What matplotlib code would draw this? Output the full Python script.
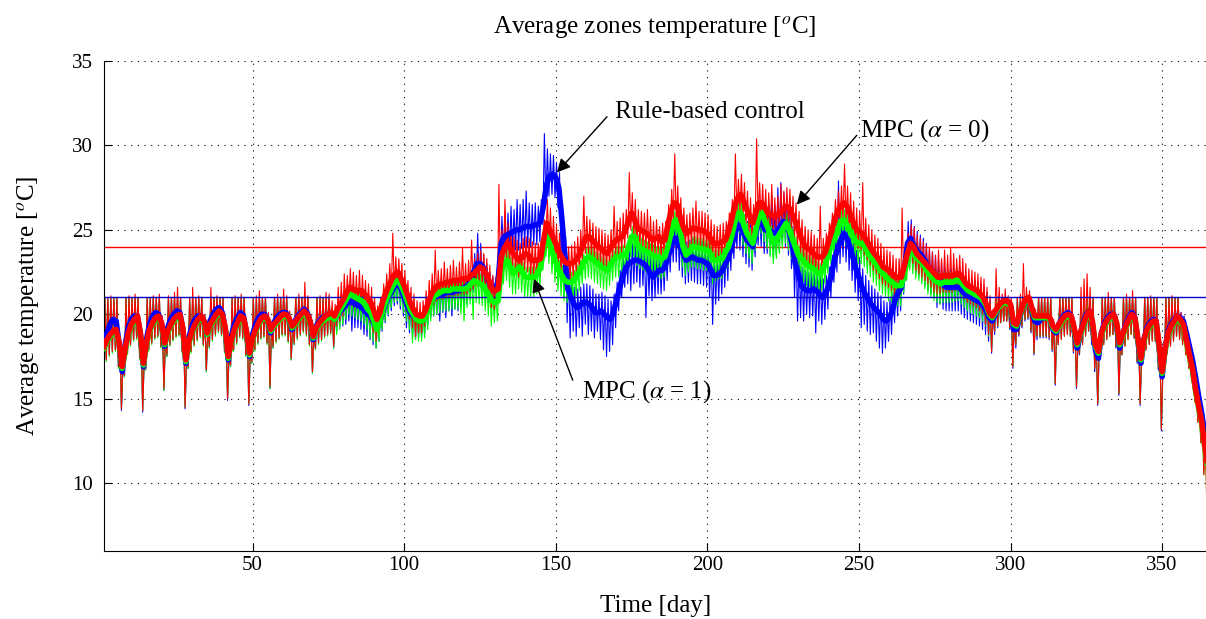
import numpy as np
import matplotlib.pyplot as plt

plt.rcParams["font.family"] = ["Liberation Serif", "DejaVu Serif"]
plt.rcParams["mathtext.fontset"] = "stix"

# daily values (day 1 .. 365)
red_mean = [
    18.1, 18.5, 18.8, 19.0, 19.1, 18.3, 16.9, 18.0, 18.9, 19.4, 19.7, 19.9, 18.9, 17.1,
    18.3, 19.1, 19.5, 19.8, 19.9, 19.5, 18.3, 19.0, 19.4, 19.7, 19.9, 20.0, 19.2, 17.3,
    18.4, 19.0, 19.4, 19.7, 19.9, 19.6, 18.9, 19.4, 19.7, 20.0, 20.2, 20.0, 19.2, 17.5,
    18.5, 19.1, 19.5, 19.9, 19.8, 19.0, 17.7, 18.6, 19.1, 19.5, 19.8, 19.9, 19.7, 19.1,
    19.4, 19.6, 19.8, 20.0, 20.0, 19.8, 19.3, 19.5, 19.8, 20.0, 20.2, 20.0, 19.6, 18.7,
    19.2, 19.5, 19.7, 19.9, 20.0, 20.1, 19.9, 20.3, 20.6, 20.9, 21.3, 21.6, 21.5, 21.4,
    21.4, 21.4, 21.2, 21.0, 20.7, 20.2, 19.7, 20.1, 20.8, 21.3, 21.7, 22.1, 22.4, 22.5,
    22.1, 21.7, 21.2, 20.7, 20.3, 20.0, 19.9, 19.9, 20.2, 20.7, 21.2, 21.5, 21.7, 21.8,
    21.8, 21.9, 21.9, 22.0, 22.0, 22.0, 22.1, 22.1, 22.1, 22.3, 22.4, 22.6, 22.8, 22.7,
    22.4, 22.0, 21.5, 21.4, 21.5, 23.4, 23.9, 24.2, 23.9, 23.6, 23.4, 23.2, 23.4, 23.6,
    23.5, 23.2, 23.2, 23.2, 23.3, 24.4, 25.4, 25.0, 24.6, 24.2, 23.7, 23.4, 23.1, 23.0,
    23.0, 23.1, 23.3, 23.6, 24.1, 24.6, 24.6, 24.4, 24.2, 24.0, 23.9, 23.7, 23.6, 23.9,
    24.2, 24.4, 24.5, 24.6, 25.0, 25.5, 26.0, 25.6, 25.1, 25.0, 24.9, 24.8, 24.6, 24.4,
    24.5, 24.6, 24.3, 24.4, 25.3, 26.1, 26.6, 26.5, 25.8, 25.2, 24.8, 24.9, 25.1, 25.1,
    25.0, 25.0, 24.9, 24.8, 24.5, 24.2, 24.2, 24.2, 24.3, 24.4, 24.9, 25.6, 26.4, 26.9,
    27.1, 26.7, 26.2, 25.8, 25.4, 26.0, 26.6, 26.6, 26.3, 26.0, 25.9, 25.8, 25.9, 26.0,
    26.2, 26.4, 26.3, 25.9, 25.5, 25.0, 24.5, 24.1, 23.9, 23.8, 23.6, 23.4, 23.4, 23.4,
    23.7, 24.3, 24.9, 25.6, 26.1, 26.4, 26.6, 26.4, 26.0, 25.5, 25.1, 24.9, 24.8, 24.5,
    24.2, 23.9, 23.6, 23.4, 23.1, 22.8, 22.7, 22.6, 22.4, 22.2, 22.2, 22.2, 22.9, 23.6,
    24.2, 24.0, 23.6, 23.4, 23.2, 23.0, 22.8, 22.6, 22.4, 22.2, 22.2, 22.3, 22.3, 22.3,
    22.3, 22.4, 22.4, 22.2, 21.9, 21.7, 21.6, 21.5, 21.4, 21.2, 21.0, 20.6, 20.1, 19.9,
    20.2, 20.5, 20.7, 20.8, 20.8, 20.6, 19.5, 19.4, 20.0, 20.5, 20.9, 21.0, 20.4, 19.9,
    19.9, 19.9, 19.9, 19.9, 19.8, 19.3, 19.1, 19.4, 19.7, 19.9, 20.0, 19.9, 19.2, 18.3,
    18.9, 19.4, 19.9, 20.2, 19.6, 18.2, 17.8, 18.9, 19.4, 19.7, 19.9, 20.0, 19.5, 18.3,
    18.8, 19.3, 19.7, 20.0, 19.8, 18.6, 17.4, 18.5, 19.1, 19.4, 19.6, 19.6, 18.2, 16.6,
    18.0, 18.9, 19.3, 19.6, 19.9, 19.7, 19.4, 18.5, 17.6, 16.8, 15.6, 14.6, 13.7, 12.3,
    11.1,
]
red_hi = [
    21.0, 21.0, 21.1, 21.0, 21.0, 18.7, 17.2, 21.0, 21.1, 21.0, 21.2, 21.0, 19.3, 17.4,
    21.0, 21.0, 21.1, 21.0, 21.2, 19.9, 18.6, 21.1, 21.0, 21.3, 21.6, 21.0, 19.6, 17.6,
    21.0, 21.6, 21.0, 21.1, 21.0, 20.0, 19.2, 21.6, 21.0, 21.1, 21.0, 21.0, 19.6, 17.8,
    21.0, 21.1, 21.0, 21.2, 21.0, 19.4, 18.0, 21.0, 21.1, 21.4, 21.0, 21.0, 20.1, 19.4,
    21.0, 21.2, 21.0, 21.5, 21.1, 20.2, 19.6, 21.0, 21.2, 21.0, 21.9, 21.1, 20.0, 19.0,
    21.0, 21.1, 21.0, 21.3, 21.2, 20.8, 20.6, 21.6, 21.9, 22.4, 22.3, 22.7, 22.5, 22.3,
    22.6, 22.3, 22.0, 21.8, 21.6, 21.0, 20.5, 21.0, 21.8, 22.4, 23.0, 24.8, 23.4, 23.3,
    23.0, 22.6, 22.0, 21.6, 21.2, 20.8, 20.7, 20.8, 21.4, 22.0, 22.4, 23.8, 22.6, 22.7,
    23.1, 22.7, 22.9, 23.2, 22.8, 23.1, 23.9, 23.0, 23.2, 24.4, 23.3, 23.6, 23.8, 23.6,
    23.3, 22.9, 22.3, 22.2, 27.7, 25.0, 26.8, 25.4, 24.8, 24.6, 24.4, 24.2, 24.5, 24.6,
    24.5, 24.3, 24.2, 24.2, 24.4, 25.6, 26.8, 26.3, 25.8, 25.3, 24.8, 24.4, 24.1, 24.0,
    24.1, 24.3, 24.6, 25.0, 27.0, 25.8, 25.6, 25.4, 25.2, 25.1, 25.0, 24.8, 24.7, 25.0,
    26.4, 25.5, 25.7, 26.0, 26.2, 28.4, 27.2, 26.8, 26.2, 26.1, 26.0, 26.2, 25.8, 25.5,
    25.6, 25.2, 25.4, 25.5, 26.5, 27.4, 29.5, 27.6, 26.9, 26.3, 25.9, 26.0, 26.3, 26.7,
    26.1, 26.1, 26.0, 25.9, 25.6, 25.3, 25.2, 25.3, 25.4, 25.5, 26.0, 26.8, 29.5, 28.0,
    28.3, 27.8, 27.3, 26.9, 26.5, 30.4, 27.8, 27.7, 27.4, 27.2, 27.7, 26.9, 27.0, 27.7,
    27.3, 27.5, 27.4, 27.0, 26.6, 26.1, 25.6, 25.2, 25.0, 24.9, 24.7, 24.5, 26.4, 24.5,
    24.8, 25.4, 26.0, 26.8, 27.3, 27.6, 28.9, 27.6, 27.2, 26.7, 26.3, 26.1, 27.8, 25.7,
    25.3, 25.0, 24.7, 24.5, 24.2, 23.9, 23.8, 23.7, 23.5, 23.3, 23.3, 26.3, 24.0, 24.8,
    25.3, 25.1, 24.7, 24.5, 24.3, 24.1, 23.9, 23.7, 23.5, 23.8, 23.3, 23.8, 23.5, 23.9,
    23.6, 23.3, 23.5, 23.3, 23.0, 22.7, 22.6, 22.5, 22.4, 22.2, 22.1, 21.6, 21.1, 20.3,
    22.7, 21.6, 21.2, 21.5, 21.1, 21.0, 19.9, 21.0, 21.2, 23.0, 21.6, 21.4, 20.8, 20.3,
    21.0, 21.0, 21.0, 21.0, 21.0, 19.7, 19.5, 21.0, 21.0, 21.0, 21.0, 21.0, 19.6, 18.7,
    21.6, 22.1, 22.4, 21.6, 21.0, 18.6, 18.2, 21.0, 21.0, 21.3, 21.0, 21.0, 19.9, 18.7,
    21.0, 21.2, 21.0, 21.4, 21.0, 19.0, 17.8, 21.0, 21.0, 21.1, 21.0, 21.0, 18.6, 17.0,
    21.0, 21.0, 21.1, 21.0, 21.0, 20.1, 19.8, 18.9, 18.0, 17.2, 16.0, 15.0, 14.1, 12.7,
    11.5,
]
red_lo = [
    15.9, 17.3, 17.6, 17.8, 17.9, 16.9, 14.4, 16.4, 17.7, 18.2, 18.5, 18.6, 17.4, 14.3,
    16.8, 17.9, 18.3, 18.6, 18.7, 18.1, 15.6, 17.6, 18.2, 18.5, 18.7, 18.8, 17.8, 14.5,
    16.9, 17.8, 18.2, 18.5, 18.7, 18.2, 16.7, 18.1, 18.5, 18.8, 19.0, 18.8, 17.8, 15.0,
    17.0, 17.9, 18.3, 18.7, 18.6, 17.6, 14.7, 17.2, 17.9, 18.3, 18.6, 18.7, 18.3, 15.7,
    18.1, 18.4, 18.6, 18.8, 18.8, 18.4, 17.4, 18.3, 18.6, 18.8, 19.0, 18.8, 18.2, 16.6,
    18.0, 18.3, 18.5, 18.7, 18.8, 18.9, 18.1, 19.3, 19.6, 19.9, 20.3, 20.6, 20.5, 20.4,
    20.4, 20.3, 20.1, 19.9, 19.5, 18.9, 18.4, 19.0, 19.8, 20.4, 20.8, 21.2, 21.5, 21.6,
    21.2, 20.7, 20.2, 19.7, 19.2, 18.7, 18.9, 18.9, 19.3, 19.8, 20.3, 20.6, 20.8, 20.9,
    20.9, 21.0, 21.0, 21.1, 21.1, 21.1, 21.2, 21.2, 21.2, 21.4, 21.5, 21.7, 21.9, 21.8,
    21.5, 21.0, 20.4, 20.3, 20.6, 22.4, 22.9, 23.2, 22.9, 22.6, 22.4, 22.2, 22.4, 22.6,
    22.5, 22.2, 22.2, 22.2, 22.3, 23.4, 24.4, 24.0, 23.6, 23.2, 22.7, 22.4, 22.1, 22.0,
    22.0, 22.1, 22.3, 22.6, 23.1, 23.6, 23.6, 23.4, 23.2, 23.0, 22.9, 22.7, 22.6, 22.9,
    23.2, 23.4, 23.5, 23.6, 24.0, 24.5, 25.0, 24.6, 24.1, 24.0, 23.9, 23.8, 23.6, 23.4,
    23.5, 23.6, 23.3, 23.4, 24.3, 25.1, 25.6, 25.5, 24.8, 24.2, 23.8, 23.9, 24.1, 24.1,
    24.0, 24.0, 23.9, 23.8, 23.5, 23.2, 23.2, 23.2, 23.3, 23.4, 23.9, 24.6, 25.4, 25.9,
    26.1, 25.7, 25.2, 24.8, 24.4, 25.0, 25.6, 25.6, 25.3, 25.0, 24.9, 24.8, 24.9, 25.0,
    25.2, 25.4, 25.3, 24.9, 24.5, 24.0, 23.5, 23.1, 22.9, 22.8, 22.6, 22.4, 22.4, 22.4,
    22.7, 23.3, 23.9, 24.6, 25.1, 25.4, 25.6, 25.4, 25.0, 24.5, 24.1, 23.9, 23.8, 23.5,
    23.2, 22.9, 22.6, 22.4, 22.1, 21.8, 21.7, 21.6, 21.4, 21.0, 20.9, 21.2, 21.9, 22.6,
    23.2, 23.0, 22.6, 22.4, 22.2, 22.0, 21.8, 21.6, 21.3, 21.2, 21.2, 21.3, 21.3, 21.3,
    21.3, 21.4, 21.4, 21.2, 20.9, 20.7, 20.6, 20.5, 20.4, 20.2, 20.0, 19.4, 18.8, 17.8,
    19.0, 19.3, 19.5, 19.6, 19.6, 19.2, 16.9, 18.2, 18.8, 19.3, 19.7, 19.8, 19.0, 17.7,
    18.7, 18.7, 18.7, 18.7, 18.6, 17.9, 15.9, 18.2, 18.5, 18.7, 18.8, 18.7, 17.8, 15.7,
    17.7, 18.2, 18.7, 19.0, 18.4, 16.8, 14.7, 17.7, 18.2, 18.5, 18.7, 18.8, 18.1, 15.3,
    17.6, 18.1, 18.5, 18.8, 18.6, 17.2, 14.7, 17.3, 17.9, 18.2, 18.4, 18.4, 16.8, 13.2,
    16.8, 17.7, 18.1, 18.4, 18.7, 18.5, 18.2, 17.6, 16.8, 16.0, 14.8, 13.6, 12.4, 10.5,
    8.6,
]

green_mean = [
    18.0, 18.4, 18.7, 18.9, 19.0, 18.2, 16.8, 17.9, 18.8, 19.3, 19.6, 19.8, 18.8, 17.0,
    18.2, 19.0, 19.4, 19.7, 19.8, 19.4, 18.2, 18.9, 19.3, 19.6, 19.8, 19.9, 19.1, 17.2,
    18.3, 18.9, 19.3, 19.6, 19.8, 19.5, 18.8, 19.3, 19.6, 19.9, 20.1, 19.9, 19.1, 17.4,
    18.4, 19.0, 19.4, 19.8, 19.7, 18.9, 17.6, 18.5, 19.0, 19.4, 19.7, 19.8, 19.6, 19.0,
    19.3, 19.5, 19.7, 19.9, 19.9, 19.7, 19.2, 19.4, 19.7, 19.9, 20.1, 19.9, 19.5, 18.6,
    19.1, 19.4, 19.6, 19.7, 19.8, 19.9, 19.7, 20.0, 20.3, 20.6, 20.9, 21.2, 21.1, 21.0,
    20.9, 20.8, 20.6, 20.3, 20.1, 19.6, 19.1, 19.6, 20.3, 20.8, 21.2, 21.6, 21.9, 22.0,
    21.7, 21.3, 20.8, 20.3, 20.0, 19.7, 19.6, 19.6, 19.8, 20.3, 20.8, 21.1, 21.2, 21.3,
    21.4, 21.4, 21.4, 21.5, 21.5, 21.5, 21.5, 21.5, 21.6, 21.8, 22.0, 21.9, 21.8, 21.7,
    21.4, 21.1, 20.8, 20.7, 20.8, 22.6, 23.0, 23.2, 22.8, 22.4, 22.6, 22.8, 22.5, 22.2,
    22.2, 22.2, 22.2, 22.4, 22.8, 23.8, 24.6, 24.2, 23.6, 23.1, 22.6, 22.3, 22.0, 21.9,
    21.9, 22.0, 22.3, 22.6, 23.0, 23.3, 23.4, 23.3, 23.1, 23.0, 22.8, 22.7, 22.6, 22.9,
    23.2, 23.4, 23.4, 23.5, 23.5, 24.0, 24.6, 24.6, 24.1, 23.9, 23.8, 23.7, 23.6, 23.5,
    23.4, 23.4, 23.3, 23.4, 24.0, 24.8, 25.5, 25.6, 24.9, 24.0, 23.5, 23.7, 24.0, 24.0,
    23.9, 23.9, 23.8, 23.8, 23.6, 23.2, 23.2, 23.3, 23.3, 23.7, 24.0, 24.6, 25.4, 26.0,
    26.0, 25.3, 24.8, 24.5, 24.2, 25.0, 25.8, 26.0, 25.5, 25.1, 24.6, 24.2, 24.5, 24.8,
    25.1, 25.4, 25.0, 24.5, 24.0, 23.5, 23.3, 23.1, 22.9, 22.8, 22.7, 22.5, 22.4, 22.6,
    23.0, 23.6, 24.2, 24.5, 25.0, 25.5, 25.6, 25.3, 25.0, 24.6, 24.3, 24.2, 24.2, 24.0,
    23.6, 23.4, 23.1, 22.9, 22.6, 22.4, 22.2, 22.0, 21.9, 21.7, 21.7, 21.7, 22.5, 23.2,
    23.8, 23.6, 23.3, 23.2, 23.0, 22.7, 22.4, 22.2, 22.0, 21.9, 21.8, 21.9, 21.9, 21.9,
    21.9, 22.0, 22.0, 21.8, 21.6, 21.4, 21.3, 21.2, 21.1, 21.0, 20.8, 20.5, 20.0, 19.8,
    20.1, 20.4, 20.6, 20.7, 20.7, 20.5, 19.4, 19.3, 19.9, 20.4, 20.8, 20.9, 20.3, 19.8,
    19.8, 19.8, 19.8, 19.8, 19.7, 19.2, 19.0, 19.3, 19.6, 19.8, 19.9, 19.8, 19.1, 18.2,
    18.8, 19.3, 19.8, 20.1, 19.5, 18.1, 17.7, 18.8, 19.3, 19.6, 19.8, 19.9, 19.4, 18.2,
    18.7, 19.2, 19.6, 19.9, 19.7, 18.5, 17.3, 18.4, 19.0, 19.3, 19.5, 19.5, 18.1, 16.5,
    17.9, 18.8, 19.2, 19.5, 19.8, 19.6, 19.3, 18.4, 17.5, 16.7, 15.5, 14.5, 13.6, 12.2,
    11.0,
]
green_hi = [
    21.0, 21.0, 21.0, 21.0, 21.0, 18.6, 17.1, 21.0, 21.0, 21.0, 21.0, 21.0, 19.2, 17.3,
    21.0, 21.0, 21.0, 21.0, 21.0, 19.8, 18.5, 21.0, 21.0, 21.0, 21.0, 21.0, 19.5, 17.5,
    21.0, 21.0, 21.0, 21.0, 21.0, 19.9, 19.1, 21.0, 21.0, 21.0, 21.0, 21.0, 19.5, 17.7,
    21.0, 21.0, 21.0, 21.0, 21.0, 19.3, 17.9, 21.0, 21.0, 21.0, 21.0, 21.0, 20.0, 19.3,
    21.0, 21.0, 21.0, 21.0, 21.0, 20.1, 19.5, 21.0, 21.0, 21.0, 21.0, 21.0, 19.9, 18.9,
    21.0, 21.0, 21.0, 21.0, 21.0, 20.4, 20.2, 20.8, 21.1, 21.4, 21.6, 22.0, 21.8, 21.7,
    21.6, 21.5, 21.3, 21.0, 20.8, 20.3, 19.8, 20.3, 21.0, 21.5, 21.9, 22.4, 22.6, 22.6,
    22.3, 21.9, 21.4, 20.9, 20.6, 20.3, 20.2, 20.2, 20.4, 20.9, 21.4, 21.7, 21.8, 21.9,
    22.0, 22.0, 22.0, 22.1, 22.1, 22.1, 22.1, 22.1, 22.2, 22.4, 22.6, 22.5, 22.4, 22.3,
    22.0, 21.7, 21.4, 21.3, 21.4, 23.4, 23.6, 23.8, 23.4, 23.0, 23.2, 23.4, 23.1, 22.8,
    22.8, 22.8, 22.8, 23.0, 23.4, 24.4, 25.2, 24.8, 24.2, 23.7, 23.2, 22.9, 22.6, 22.5,
    22.5, 22.6, 22.9, 23.2, 23.6, 23.9, 24.0, 23.9, 23.7, 23.6, 23.4, 23.3, 23.2, 23.5,
    23.8, 24.0, 24.0, 24.1, 24.1, 24.6, 25.2, 25.2, 24.7, 24.5, 24.4, 24.3, 24.2, 24.1,
    24.0, 24.0, 23.9, 24.0, 24.6, 25.4, 26.1, 26.2, 25.5, 24.6, 24.1, 24.3, 24.6, 24.6,
    24.5, 24.5, 24.4, 24.4, 24.2, 23.8, 23.8, 23.9, 23.9, 24.3, 24.6, 25.2, 26.0, 26.6,
    26.6, 25.9, 25.4, 25.1, 24.8, 25.6, 26.4, 26.6, 26.1, 25.7, 25.2, 24.8, 25.1, 25.4,
    25.7, 26.0, 25.6, 25.1, 24.6, 24.1, 23.9, 23.7, 23.5, 23.4, 23.3, 23.1, 23.0, 23.2,
    23.6, 24.2, 24.8, 25.1, 25.6, 26.1, 26.2, 25.9, 25.6, 25.2, 24.9, 24.8, 24.8, 24.6,
    24.2, 24.0, 23.7, 23.5, 23.2, 23.0, 22.8, 22.6, 22.5, 22.3, 22.3, 22.3, 23.1, 23.8,
    24.4, 24.2, 23.9, 23.8, 23.6, 23.3, 23.0, 22.8, 22.6, 22.5, 22.4, 22.5, 22.5, 22.5,
    22.5, 22.6, 22.6, 22.4, 22.2, 22.0, 21.9, 21.8, 21.7, 21.6, 21.4, 21.1, 20.6, 20.2,
    21.0, 21.0, 21.0, 21.0, 21.0, 20.8, 19.7, 21.0, 21.0, 21.0, 21.0, 21.0, 20.6, 20.1,
    21.0, 21.0, 21.0, 21.0, 21.0, 19.5, 19.3, 21.0, 21.0, 21.0, 21.0, 21.0, 19.4, 18.5,
    21.0, 21.0, 21.0, 21.0, 21.0, 18.4, 18.0, 21.0, 21.0, 21.0, 21.0, 21.0, 19.7, 18.5,
    21.0, 21.0, 21.0, 21.0, 21.0, 18.8, 17.6, 21.0, 21.0, 21.0, 21.0, 21.0, 18.4, 16.8,
    21.0, 21.0, 21.0, 21.0, 21.0, 19.9, 19.6, 18.7, 17.8, 17.0, 15.8, 14.8, 13.9, 12.5,
    11.3,
]
green_lo = [
    15.9, 17.2, 17.5, 17.7, 17.8, 16.8, 14.4, 16.3, 17.6, 18.1, 18.4, 18.5, 17.3, 14.3,
    16.7, 17.8, 18.2, 18.5, 18.6, 18.0, 15.5, 17.5, 18.1, 18.4, 18.6, 18.7, 17.7, 14.5,
    16.8, 17.7, 18.1, 18.4, 18.6, 18.1, 16.6, 18.0, 18.4, 18.7, 18.9, 18.7, 17.7, 15.0,
    16.9, 17.8, 18.2, 18.6, 18.5, 17.5, 14.7, 17.1, 17.8, 18.2, 18.5, 18.6, 18.2, 15.6,
    18.0, 18.3, 18.5, 18.7, 18.7, 18.3, 17.3, 18.2, 18.5, 18.7, 18.9, 18.7, 18.1, 16.5,
    17.9, 18.2, 18.4, 18.6, 18.7, 18.8, 18.0, 18.8, 19.1, 19.4, 19.7, 20.0, 19.9, 19.8,
    19.7, 19.6, 19.4, 19.1, 18.6, 18.4, 18.0, 18.4, 19.1, 19.6, 20.0, 20.4, 20.7, 20.8,
    20.5, 20.1, 19.6, 19.1, 18.3, 18.5, 18.4, 18.4, 18.6, 19.1, 19.6, 19.9, 20.0, 20.1,
    20.2, 20.2, 20.2, 20.3, 20.3, 20.3, 20.0, 19.6, 20.4, 20.6, 19.7, 20.7, 20.6, 20.5,
    20.2, 19.9, 19.3, 19.5, 19.6, 21.4, 21.8, 22.0, 21.6, 21.2, 21.2, 21.5, 21.3, 21.0,
    21.0, 21.0, 21.0, 21.2, 21.6, 22.6, 23.4, 23.0, 22.4, 21.9, 21.4, 21.1, 20.8, 20.7,
    20.7, 20.8, 21.1, 21.4, 21.8, 22.1, 22.2, 22.1, 21.9, 21.8, 21.6, 21.5, 21.4, 21.7,
    22.0, 22.2, 22.2, 22.3, 22.3, 22.8, 23.4, 23.4, 22.9, 22.7, 22.6, 22.5, 22.4, 22.3,
    22.2, 22.2, 22.1, 22.2, 22.8, 23.6, 24.3, 24.4, 23.7, 22.8, 22.3, 22.5, 22.8, 22.8,
    22.7, 22.7, 22.6, 22.6, 22.4, 21.8, 22.0, 22.1, 22.1, 22.5, 22.8, 23.4, 24.2, 24.8,
    24.8, 24.1, 23.6, 23.3, 23.0, 23.8, 24.6, 24.8, 24.3, 23.9, 23.4, 23.0, 23.3, 23.6,
    23.9, 24.2, 23.8, 23.3, 22.8, 22.3, 22.1, 21.9, 21.7, 21.6, 21.5, 21.3, 21.2, 21.4,
    21.8, 22.4, 23.0, 23.3, 23.8, 24.3, 24.4, 24.1, 23.8, 23.4, 23.1, 23.0, 23.0, 22.8,
    22.4, 22.2, 21.9, 21.7, 21.4, 21.2, 21.0, 20.8, 20.7, 20.5, 20.5, 20.5, 21.3, 22.0,
    22.6, 22.4, 22.1, 22.0, 21.8, 21.5, 21.2, 21.0, 20.8, 20.7, 20.6, 20.7, 20.7, 20.7,
    20.7, 20.8, 20.8, 20.6, 20.4, 20.2, 20.1, 20.0, 19.9, 19.8, 19.6, 19.3, 18.7, 17.8,
    19.0, 19.3, 19.5, 19.6, 19.6, 19.2, 16.9, 18.2, 18.8, 19.3, 19.7, 19.8, 19.0, 17.7,
    18.7, 18.7, 18.7, 18.7, 18.6, 17.9, 15.9, 18.2, 18.5, 18.7, 18.8, 18.7, 17.8, 15.7,
    17.7, 18.2, 18.7, 19.0, 18.4, 16.8, 14.7, 17.7, 18.2, 18.5, 18.7, 18.8, 18.1, 15.3,
    17.6, 18.1, 18.5, 18.8, 18.6, 17.2, 14.7, 17.3, 17.9, 18.2, 18.4, 18.4, 16.8, 13.2,
    16.8, 17.7, 18.1, 18.4, 18.7, 18.5, 18.2, 17.6, 16.8, 16.0, 14.8, 13.6, 12.4, 10.5,
    8.7,
]

blue_mean = [
    18.3, 18.9, 19.4, 19.7, 19.6, 18.2, 16.6, 18.2, 19.2, 19.7, 19.9, 19.9, 18.8, 16.9,
    18.5, 19.4, 19.9, 20.1, 20.0, 19.4, 18.1, 19.2, 19.7, 20.0, 20.2, 20.1, 19.1, 17.1,
    18.6, 19.3, 19.7, 19.9, 19.9, 19.6, 18.8, 19.6, 20.0, 20.3, 20.4, 20.1, 19.1, 17.3,
    18.7, 19.4, 19.8, 20.1, 19.9, 18.9, 17.5, 18.8, 19.4, 19.8, 20.0, 20.0, 19.6, 18.9,
    19.5, 19.8, 20.0, 20.1, 20.1, 19.7, 19.1, 19.6, 19.9, 20.1, 20.3, 20.1, 19.5, 18.5,
    19.3, 19.6, 19.8, 19.9, 20.0, 20.0, 19.7, 20.0, 20.2, 20.4, 20.6, 20.8, 20.7, 20.6,
    20.5, 20.4, 20.2, 20.0, 19.9, 19.5, 19.2, 19.6, 20.2, 20.7, 21.1, 21.4, 21.7, 21.8,
    21.5, 21.0, 20.5, 20.1, 19.9, 19.7, 19.6, 19.6, 19.9, 20.4, 20.9, 21.0, 21.1, 21.2,
    21.2, 21.3, 21.3, 21.3, 21.4, 21.4, 21.5, 21.6, 21.7, 22.0, 22.5, 23.0, 23.0, 22.8,
    22.4, 21.9, 21.6, 21.4, 22.0, 24.2, 24.6, 24.7, 24.8, 24.9, 25.0, 25.0, 25.1, 25.2,
    25.2, 25.2, 25.3, 25.3, 25.5, 26.5, 27.7, 28.2, 28.3, 28.1, 27.5, 25.7, 23.5, 21.5,
    21.0, 20.6, 20.4, 20.5, 20.7, 20.7, 20.6, 20.4, 20.1, 20.1, 20.2, 20.0, 19.8, 19.7,
    20.1, 20.8, 21.5, 22.2, 22.7, 23.0, 23.1, 23.2, 23.2, 23.1, 23.0, 22.8, 22.5, 22.2,
    22.4, 22.6, 22.6, 22.8, 23.4, 23.9, 24.5, 24.5, 24.0, 23.6, 23.2, 23.3, 23.4, 23.3,
    23.2, 23.2, 23.1, 23.0, 22.7, 22.3, 22.3, 22.4, 22.6, 23.0, 23.4, 24.0, 24.7, 25.3,
    25.2, 24.8, 24.4, 24.2, 24.0, 24.8, 25.5, 25.4, 25.0, 25.0, 24.9, 24.8, 24.9, 25.2,
    25.5, 25.4, 24.9, 24.1, 23.0, 22.4, 21.7, 21.5, 21.4, 21.4, 21.5, 21.4, 21.2, 21.0,
    21.2, 21.7, 22.4, 23.3, 23.9, 24.4, 24.8, 24.5, 24.0, 23.4, 22.7, 22.2, 21.6, 21.2,
    20.9, 20.6, 20.4, 20.2, 20.0, 19.7, 19.6, 19.8, 20.2, 20.9, 21.3, 21.6, 22.6, 24.2,
    24.5, 24.1, 23.8, 23.6, 23.4, 23.1, 22.8, 22.6, 22.4, 22.2, 22.0, 21.7, 21.6, 21.6,
    21.6, 21.6, 21.6, 21.4, 21.2, 21.1, 21.0, 20.9, 20.8, 20.7, 20.5, 20.2, 19.8, 19.6,
    20.0, 20.4, 20.7, 20.8, 20.8, 20.5, 19.1, 19.1, 19.8, 20.4, 20.8, 20.9, 20.2, 19.6,
    19.5, 19.7, 19.8, 19.8, 19.7, 19.1, 18.9, 19.4, 19.8, 20.0, 20.1, 19.9, 19.0, 18.0,
    18.8, 19.5, 20.0, 20.2, 19.4, 17.9, 17.4, 18.9, 19.5, 19.8, 20.0, 20.0, 19.3, 18.0,
    18.8, 19.4, 19.8, 20.1, 19.8, 18.4, 17.1, 18.5, 19.2, 19.5, 19.7, 19.6, 18.0, 16.3,
    18.0, 19.0, 19.4, 19.7, 19.9, 19.8, 19.6, 18.9, 18.1, 17.3, 16.3, 15.2, 14.2, 13.0,
    12.0,
]
blue_hi = [
    21.0, 21.0, 21.0, 21.0, 21.0, 18.5, 16.9, 21.0, 21.0, 21.0, 21.0, 21.0, 19.1, 17.2,
    21.0, 21.0, 21.0, 21.0, 21.0, 19.7, 18.4, 21.0, 21.0, 21.0, 21.0, 21.0, 19.4, 17.4,
    21.0, 21.0, 21.0, 21.0, 21.0, 19.9, 19.1, 21.0, 21.0, 21.0, 21.0, 21.0, 19.4, 17.6,
    21.0, 21.0, 21.0, 21.0, 21.0, 19.2, 17.8, 21.0, 21.0, 21.0, 21.0, 21.0, 19.9, 19.2,
    21.0, 21.0, 21.0, 21.0, 21.0, 20.0, 19.4, 21.0, 21.0, 21.0, 21.0, 21.0, 19.8, 18.8,
    21.0, 21.0, 21.0, 21.0, 21.0, 20.3, 20.0, 20.6, 20.8, 21.0, 21.2, 21.4, 21.3, 21.2,
    21.1, 21.0, 20.8, 20.6, 20.5, 20.1, 19.8, 20.2, 20.8, 21.3, 21.7, 22.0, 22.3, 22.4,
    22.1, 21.6, 21.1, 20.7, 20.5, 20.3, 20.2, 20.2, 20.5, 21.0, 21.5, 21.6, 21.7, 21.8,
    21.8, 21.9, 21.9, 21.9, 22.0, 22.0, 22.1, 22.2, 22.3, 22.6, 23.6, 24.8, 24.2, 23.5,
    23.0, 22.5, 22.2, 22.0, 22.6, 25.8, 26.0, 26.0, 26.4, 26.2, 26.8, 26.5, 26.8, 27.3,
    26.6, 26.5, 26.6, 26.4, 26.8, 30.7, 29.8, 29.5, 29.4, 29.0, 28.4, 26.5, 24.6, 22.6,
    22.0, 21.6, 21.5, 21.6, 21.8, 21.8, 21.7, 21.5, 21.2, 21.2, 21.3, 21.1, 20.9, 20.8,
    21.2, 21.9, 22.6, 23.3, 23.8, 24.1, 24.2, 24.3, 24.3, 24.2, 24.1, 23.9, 23.6, 23.3,
    23.5, 23.7, 23.7, 23.9, 24.5, 25.0, 25.6, 25.6, 25.1, 24.7, 24.3, 24.4, 24.5, 24.4,
    24.3, 24.3, 24.2, 24.1, 23.8, 23.4, 23.4, 23.5, 23.7, 24.1, 24.5, 25.1, 25.8, 26.4,
    26.3, 25.9, 25.5, 25.3, 25.1, 25.9, 26.6, 26.5, 26.1, 26.6, 27.0, 26.5, 27.5, 27.8,
    27.2, 26.5, 26.0, 25.2, 24.1, 23.5, 22.8, 22.6, 22.5, 22.5, 22.6, 22.5, 22.3, 22.1,
    22.3, 22.8, 23.5, 24.4, 27.9, 25.5, 25.9, 25.6, 25.1, 24.5, 23.8, 23.3, 22.7, 22.3,
    22.0, 21.7, 21.5, 21.3, 21.1, 20.8, 20.7, 20.9, 21.3, 22.0, 22.4, 22.7, 23.7, 25.5,
    25.6, 25.2, 24.9, 24.7, 24.5, 24.2, 23.9, 23.7, 23.5, 23.3, 23.1, 22.8, 22.7, 22.7,
    22.7, 22.7, 22.7, 22.5, 22.3, 22.2, 22.1, 22.0, 21.9, 21.8, 21.6, 21.3, 20.9, 20.0,
    21.0, 21.0, 21.0, 21.0, 21.0, 20.8, 19.4, 21.0, 21.0, 21.0, 21.0, 21.0, 20.5, 19.9,
    21.0, 21.0, 21.0, 21.0, 21.0, 19.4, 19.2, 21.0, 21.0, 21.0, 21.0, 21.0, 19.3, 18.3,
    21.0, 21.0, 21.0, 21.0, 21.0, 18.2, 17.7, 21.0, 21.0, 21.0, 21.0, 21.0, 19.6, 18.3,
    21.0, 21.0, 21.0, 21.0, 21.0, 18.7, 17.4, 21.0, 21.0, 21.0, 21.0, 21.0, 18.3, 16.6,
    21.0, 21.0, 21.0, 21.0, 21.0, 20.1, 19.9, 19.2, 18.4, 17.6, 16.6, 15.5, 14.5, 13.3,
    12.3,
]
blue_lo = [
    15.8, 17.3, 17.6, 17.8, 17.9, 16.9, 14.3, 16.3, 17.7, 18.2, 18.5, 18.6, 17.4, 14.2,
    16.7, 17.9, 18.3, 18.6, 18.7, 18.1, 15.5, 17.5, 18.2, 18.5, 18.7, 18.8, 17.8, 14.4,
    16.8, 17.8, 18.2, 18.5, 18.7, 18.2, 16.6, 18.0, 18.5, 18.8, 19.0, 18.8, 17.8, 14.9,
    16.9, 17.9, 18.3, 18.7, 18.6, 17.6, 14.6, 17.1, 17.9, 18.3, 18.6, 18.7, 18.3, 15.6,
    18.0, 18.4, 18.6, 18.8, 18.8, 18.4, 17.3, 18.2, 18.6, 18.8, 19.0, 18.8, 18.2, 16.5,
    17.9, 18.3, 18.5, 18.7, 18.8, 18.9, 18.0, 19.0, 19.2, 19.3, 19.4, 19.6, 19.0, 19.2,
    19.2, 19.1, 18.8, 18.7, 18.5, 18.2, 18.0, 18.4, 19.0, 19.5, 19.9, 20.2, 20.5, 20.6,
    20.3, 19.9, 19.2, 18.9, 18.6, 18.5, 18.6, 18.6, 18.8, 19.3, 19.8, 19.9, 20.0, 19.6,
    20.1, 19.8, 20.2, 19.9, 20.3, 20.2, 20.4, 20.5, 20.6, 20.9, 21.3, 21.8, 21.8, 21.6,
    21.2, 20.7, 20.4, 20.2, 20.8, 23.0, 23.4, 23.5, 23.6, 23.7, 23.8, 23.8, 23.9, 24.0,
    24.0, 24.0, 24.1, 24.1, 24.3, 25.3, 26.5, 27.0, 27.1, 26.9, 26.3, 23.5, 21.0, 19.5,
    18.6, 19.0, 18.7, 19.2, 18.7, 19.4, 18.8, 19.0, 18.6, 19.0, 18.5, 17.9, 17.5, 17.8,
    18.2, 19.2, 20.2, 21.0, 21.6, 21.8, 21.4, 21.8, 21.9, 21.6, 21.7, 19.8, 21.1, 20.8,
    21.0, 21.2, 21.2, 21.4, 22.0, 22.5, 23.1, 23.1, 22.6, 22.2, 21.8, 21.9, 22.0, 21.9,
    21.8, 21.8, 21.7, 21.6, 21.0, 19.4, 20.6, 20.8, 21.2, 21.6, 22.0, 22.6, 23.3, 23.9,
    23.8, 23.4, 23.0, 22.8, 22.6, 23.4, 24.1, 24.0, 23.6, 23.6, 23.5, 23.4, 23.5, 23.8,
    24.1, 24.0, 23.5, 22.7, 21.0, 19.6, 19.8, 19.6, 20.0, 19.8, 19.9, 18.9, 19.6, 19.4,
    19.7, 20.3, 21.0, 21.9, 22.5, 23.0, 23.4, 23.1, 22.6, 22.0, 21.3, 20.8, 19.2, 19.4,
    19.0, 18.8, 18.9, 18.4, 18.0, 17.7, 18.0, 18.4, 18.8, 19.5, 19.9, 20.2, 21.2, 22.8,
    23.1, 22.7, 22.4, 22.2, 22.0, 21.7, 21.4, 21.2, 21.0, 20.4, 20.6, 20.3, 20.2, 20.2,
    20.2, 20.2, 20.2, 20.0, 19.8, 19.7, 19.6, 19.5, 19.4, 19.3, 19.1, 18.8, 18.4, 17.7,
    18.8, 19.2, 19.5, 19.6, 19.6, 19.1, 16.8, 18.0, 18.7, 19.2, 19.6, 19.7, 18.9, 17.6,
    18.5, 18.6, 18.6, 18.6, 18.5, 17.8, 15.8, 18.2, 18.6, 18.8, 18.9, 18.7, 17.7, 15.6,
    17.6, 18.3, 18.8, 19.0, 18.2, 16.6, 14.6, 17.7, 18.3, 18.6, 18.8, 18.8, 18.0, 15.2,
    17.6, 18.2, 18.6, 18.9, 18.6, 17.1, 14.6, 17.3, 18.0, 18.3, 18.5, 18.4, 16.7, 13.1,
    16.8, 17.8, 18.2, 18.5, 18.7, 18.6, 18.4, 17.9, 17.2, 16.4, 15.3, 14.2, 13.0, 11.5,
    10.6,
]

heating_setpoint = 21
cooling_setpoint = 24


def hourly_trace(lo, hi):
    # one trough and one peak per day
    d = np.arange(1, len(lo) + 1)
    t = np.column_stack([d - 0.25, d + 0.25]).ravel()
    v = np.column_stack([lo, hi]).ravel()
    return t, v


fig = plt.figure(figsize=(12.06, 6.19), dpi=100)
ax = fig.add_axes([104 / 1206, 68.3 / 619, 1103.6 / 1206, 489.7 / 619])

ax.axhline(cooling_setpoint, color="red", lw=1.0, zorder=1.5)
ax.axhline(heating_setpoint, color="#0000c8", lw=1.0, zorder=2.5)

series = [
    ("blue", blue_lo, blue_hi, blue_mean),
    ("#00ff00", green_lo, green_hi, green_mean),
    ("red", red_lo, red_hi, red_mean),
]
for color, lo, hi, mean in series:
    t, v = hourly_trace(lo, hi)
    ax.plot(t, v, color=color, lw=0.8, zorder=2)
for color, lo, hi, mean in series:
    ax.plot(np.arange(1, len(mean) + 1), mean, color=color, lw=4.0, zorder=3,
            solid_joinstyle="round")

ax.set_xlim(1, 365)
ax.set_ylim(6, 35)
ax.set_xticks([50, 100, 150, 200, 250, 300, 350])
ax.set_yticks([10, 15, 20, 25, 30, 35])
ax.grid(True, color="k", linestyle=(0, (1, 5)), lw=0.8)
ax.set_axisbelow(True)
for s in ["top", "right"]:
    ax.spines[s].set_visible(False)
ax.tick_params(direction="in", length=6, labelsize=15, top=False, right=False)
ax.tick_params(axis="y", pad=8)

fig.text(655 / 1206, 1 - 27 / 619, r"Average zones temperature [$^o$C]",
         fontsize=18, ha="center", va="center")
ax.set_xlabel("Time [day]", fontsize=18)
ax.xaxis.set_label_coords(0.5, -0.09)
ax.set_ylabel(r"Average temperature [$^o$C]", fontsize=18)
ax.yaxis.set_label_coords(-0.057, 0.5)

arrow = dict(arrowstyle="-|>", color="k", lw=1.0, mutation_scale=20,
             shrinkA=0, shrinkB=0)
ax.annotate("", xy=(150.4, 28.4), xytext=(166.9, 31.7), arrowprops=arrow, zorder=5)
ax.text(169.5, 32.0, "Rule-based control", fontsize=18, va="center", ha="left")
ax.annotate("", xy=(229.5, 26.5), xytext=(249.3, 30.6), arrowprops=arrow, zorder=5)
ax.text(250.5, 30.9, r"MPC ($\alpha$ = 0)", fontsize=18, va="center", ha="left")
ax.annotate("", xy=(142.8, 22.1), xytext=(155.6, 16.1), arrowprops=arrow, zorder=5)
ax.text(158.6, 15.4, r"MPC ($\alpha$ = 1)", fontsize=18, va="center", ha="left")

fig.savefig("out.png", dpi=100)
